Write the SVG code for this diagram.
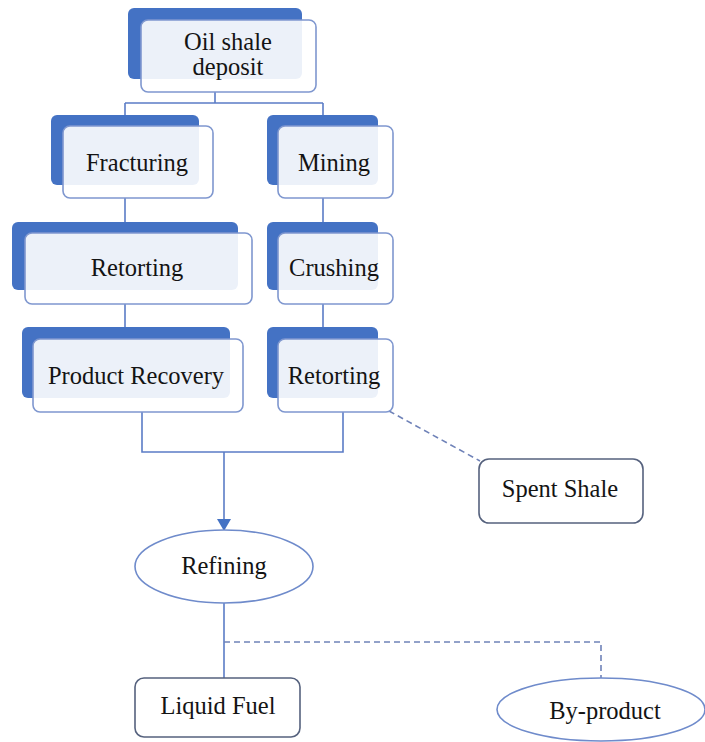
<svg xmlns="http://www.w3.org/2000/svg" width="705" height="742" viewBox="0 0 705 742">
  <style>
    .back { fill: #4472c4; }
    .front { fill: #ffffff; fill-opacity: 0.9; stroke: #7f97cf; stroke-width: 1.6; }
    .label { font-family: 'Liberation Serif', 'DejaVu Serif', serif; font-size: 24.5px; fill: #141414; text-anchor: middle; }
    .link { fill: none; stroke: #5b7cc6; stroke-width: 1.6; }
    .dash { fill: none; stroke: #6f82b8; stroke-width: 1.6; stroke-dasharray: 6 4; }
    .plain { fill: #ffffff; stroke: #56627e; stroke-width: 1.6; }
    .oval { fill: #ffffff; stroke: #6f8bcb; stroke-width: 1.6; }
  </style>
  <defs>
    <marker id="arrow" viewBox="0 0 12 14" refX="12" refY="7" markerWidth="12" markerHeight="14" orient="auto" markerUnits="userSpaceOnUse">
      <path d="M0,0 L12,7 L0,14 z" fill="#4472c4"/>
    </marker>
  </defs>
  <rect width="705" height="742" fill="#ffffff"/>

  <g id="connectors">
    <path class="link" d="M215,92 V103 M125,103 H323 M125,103 V126 M323,103 V126"/>
    <path class="link" d="M125,198 V233 M323,198 V233"/>
    <path class="link" d="M125,304 V339 M323,304 V339"/>
    <path class="link" d="M142,412 V452 H343 V412"/>
    <path class="link" d="M224,452 V531" marker-end="url(#arrow)"/>
    <path class="link" d="M224,603 V678"/>
    <path class="dash" d="M224,642 H601 V678"/>
    <path class="dash" d="M389,411 L480,461"/>
  </g>

  <g id="oil-shale-deposit">
    <rect class="back" x="128" y="8" width="174" height="71" rx="6"/>
    <rect class="front" x="141" y="20" width="175" height="72" rx="7"/>
    <text class="label" x="228" y="50">Oil shale</text>
    <text class="label" x="228" y="75">deposit</text>
  </g>

  <g id="fracturing">
    <rect class="back" x="51" y="115" width="148" height="70" rx="6"/>
    <rect class="front" x="63" y="126" width="150" height="72" rx="7"/>
    <text class="label" x="137" y="171">Fracturing</text>
  </g>

  <g id="mining">
    <rect class="back" x="267" y="115" width="111" height="70" rx="6"/>
    <rect class="front" x="278" y="126" width="115" height="72" rx="7"/>
    <text class="label" x="334" y="171">Mining</text>
  </g>

  <g id="retorting-left">
    <rect class="back" x="12" y="222" width="226" height="68" rx="6"/>
    <rect class="front" x="25" y="233" width="227" height="71" rx="7"/>
    <text class="label" x="137" y="276">Retorting</text>
  </g>

  <g id="crushing">
    <rect class="back" x="267" y="222" width="111" height="68" rx="6"/>
    <rect class="front" x="278" y="233" width="115" height="71" rx="7"/>
    <text class="label" x="334" y="276">Crushing</text>
  </g>

  <g id="product-recovery">
    <rect class="back" x="22" y="327" width="208" height="71" rx="6"/>
    <rect class="front" x="33" y="339" width="210" height="73" rx="7"/>
    <text class="label" x="136" y="384">Product Recovery</text>
  </g>

  <g id="retorting-right">
    <rect class="back" x="267" y="327" width="111" height="71" rx="6"/>
    <rect class="front" x="278" y="339" width="115" height="73" rx="7"/>
    <text class="label" x="334" y="384">Retorting</text>
  </g>

  <g id="spent-shale">
    <rect class="plain" x="479" y="459" width="164" height="64" rx="10"/>
    <text class="label" x="560" y="497">Spent Shale</text>
  </g>

  <g id="refining">
    <ellipse class="oval" cx="224" cy="566.5" rx="89" ry="36.5"/>
    <text class="label" x="224" y="574">Refining</text>
  </g>

  <g id="liquid-fuel">
    <rect class="plain" x="135" y="678" width="165" height="59" rx="9"/>
    <text class="label" x="218" y="714">Liquid Fuel</text>
  </g>

  <g id="by-product">
    <ellipse class="oval" cx="601" cy="709.5" rx="104" ry="31.5"/>
    <text class="label" x="605" y="719">By-product</text>
  </g>
</svg>
